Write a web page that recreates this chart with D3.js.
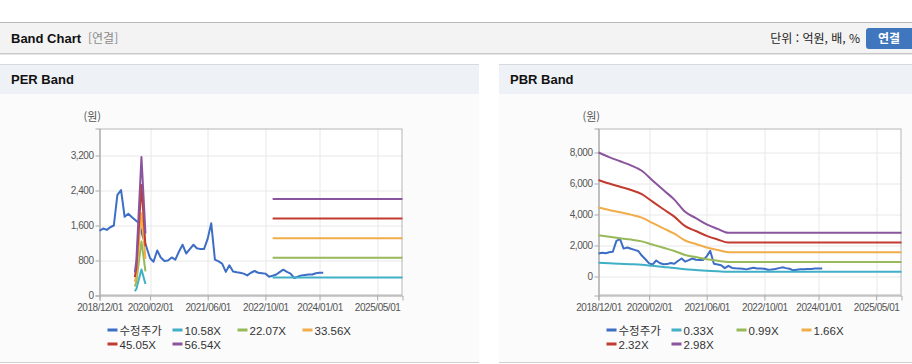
<!DOCTYPE html>
<html lang="ko">
<head>
<meta charset="utf-8">
<title>Band Chart</title>
<script src="https://d3js.org/d3.v7.min.js"></script>
<style>
  body { margin: 0; background: #fff; }
  svg text { font-family: "Liberation Sans", "Noto Sans CJK KR", sans-serif; }
  .kr { font-family: "Noto Sans CJK KR", "Liberation Sans", sans-serif !important; }
</style>
</head>
<body>
<svg id="page" width="912" height="364"></svg>
<script>
// 수정주가, monthly from 2018/12 to 2024/02
var priceValues = [1480, 1530, 1500, 1560, 1600, 2300, 2410, 1800, 1870, 1790,
                   1720, 1650, 1350, 1110, 850, 770, 1030, 870, 790, 800,
                   870, 820, 1000, 1160, 960, 1060, 1160, 1080, 1060, 1060,
                   1300, 1650, 820, 780, 730, 540, 690, 550, 530, 520,
                   500, 460, 520, 560, 520, 510, 500, 430, 450, 480,
                   540, 590, 540, 500, 400, 430, 460, 470, 480, 480,
                   510, 520, 520];

// PER band
var perNames = ["10.58X", "22.07X", "33.56X", "45.05X", "56.54X"];
var perDates = ["2019-09-25", "2019-10-08", "2019-11-20", "2019-12-24", "2020-01-10", "2022-12-01", "2025-12-01"];
var per1058 = [98, 148, 594, 265, null, 413, 413];
var per2207 = [205, 309, 1236, 552, null, 862, 862];
var per3356 = [312, 470, 1879, 839, null, 1310, 1310];
var per4505 = [419, 631, 2523, 1126, null, 1759, 1759];
var per5654 = [526, 792, 3166, 1414, null, 2208, 2208];
var perTicks = [0, 800, 1600, 2400, 3200];

// PBR band
var pbrNames = ["0.33X", "0.99X", "1.66X", "2.32X", "2.98X"];
var pbrDates = ["2018-12-01", "2019-03-01", "2019-06-01", "2019-09-01", "2019-12-01", "2020-03-01", "2020-06-01",
                "2020-09-01", "2020-12-01", "2021-03-01", "2021-06-01", "2021-09-01", "2021-12-01", "2025-12-01"];
var pbr033 = [886, 853, 823, 794, 756, 686, 617, 549, 462, 417, 373, 340, 312, 312];
var pbr099 = [2658, 2559, 2470, 2381, 2267, 2059, 1851, 1648, 1386, 1252, 1119, 1020, 936, 936];
var pbr166 = [4457, 4291, 4142, 3992, 3801, 3453, 3104, 2764, 2324, 2100, 1876, 1710, 1569, 1569];
var pbr232 = [6229, 5997, 5788, 5580, 5313, 4826, 4338, 3863, 3248, 2935, 2622, 2390, 2192, 2192];
var pbr298 = [8001, 7703, 7435, 7167, 6824, 6198, 5573, 4962, 4172, 3770, 3367, 3069, 2816, 2816];
var pbrTicks = [0, 2000, 4000, 6000, 8000];

var xTickLabels = ["2018/12/01", "2020/02/01", "2021/06/01", "2022/10/01", "2024/01/01", "2025/05/01"];

var colors = ["#3d6ec5", "#3fb0c6", "#98b95a", "#f0ad4a", "#c23b2f", "#8b559d"];

var parse = d3.timeParse("%Y-%m-%d");
var tickParse = d3.timeParse("%Y/%m/%d");
var priceDates = d3.timeMonth.range(parse("2018-12-01"), parse("2024-03-01"));

var svg = d3.select("#page");

// ---- top header bar ----
svg.append("rect").attr("x", 0).attr("y", 22).attr("width", 912).attr("height", 31).attr("fill", "#f3f3f3");
svg.append("line").attr("x1", 0).attr("x2", 912).attr("y1", 22.5).attr("y2", 22.5).attr("stroke", "#b8b8b8");
svg.append("line").attr("x1", 0).attr("x2", 912).attr("y1", 53.5).attr("y2", 53.5).attr("stroke", "#c8c8c8");
svg.append("line").attr("x1", 0).attr("x2", 912).attr("y1", 54.5).attr("y2", 54.5).attr("stroke", "#e6e6e6");
svg.append("text").attr("x", 11).attr("y", 43).attr("font-size", 13).attr("font-weight", "bold")
  .attr("fill", "#111").text("Band Chart");
svg.append("text").attr("class", "kr").attr("x", 88).attr("y", 43).attr("font-size", 12)
  .attr("fill", "#8a8a8a").text("[연결]");
svg.append("text").attr("class", "kr").attr("x", 860).attr("y", 43).attr("font-size", 12)
  .attr("text-anchor", "end").attr("fill", "#222").text("단위 : 억원, 배, %");
svg.append("rect").attr("x", 866).attr("y", 28).attr("width", 50).attr("height", 21).attr("rx", 3)
  .attr("fill", "#3f76bd");
svg.append("text").attr("class", "kr").attr("x", 889).attr("y", 43).attr("font-size", 12)
  .attr("font-weight", "bold").attr("text-anchor", "middle").attr("fill", "#fff").text("연결");

function series(dates, vals) {
  return dates.map(function(d, i) { return { date: d, v: vals[i] }; });
}

function drawPanel(opt) {
  var p = svg.append("g");
  // panel background
  p.append("rect").attr("x", opt.px).attr("y", 64).attr("width", opt.pw).attr("height", 299).attr("fill", "#fbfbfc");
  p.append("rect").attr("x", opt.px).attr("y", 64).attr("width", opt.pw).attr("height", 30).attr("fill", "#eef1f5");
  p.append("line").attr("x1", opt.px).attr("x2", opt.px + opt.pw).attr("y1", 64.5).attr("y2", 64.5).attr("stroke", "#d6d9de");
  p.append("line").attr("x1", opt.px).attr("x2", opt.px + opt.pw).attr("y1", 362.5).attr("y2", 362.5).attr("stroke", "#d0d0d0");
  p.append("text").attr("x", opt.px + 11).attr("y", 84).attr("font-size", 13).attr("font-weight", "bold")
    .attr("fill", "#111").text(opt.title);

  var w = 303, h = 167;
  var g = p.append("g").attr("transform", "translate(" + opt.left + ",128.5)");
  var x = d3.scaleTime().domain([parse("2018-12-01"), parse("2025-12-01")]).range([0, w]);
  var y = d3.scaleLinear().domain(opt.yDomain).range([h, 0]);
  var xTicks = xTickLabels.map(tickParse);

  g.append("rect").attr("width", w).attr("height", h).attr("fill", "#fff");

  // grid
  g.selectAll(".gx").data(xTicks).enter().append("line")
    .attr("x1", function(d) { return Math.round(x(d)) + 0.5; }).attr("x2", function(d) { return Math.round(x(d)) + 0.5; })
    .attr("y1", 0).attr("y2", h).attr("stroke", "#e8e8e8");
  g.selectAll(".gy").data(opt.yTicks).enter().append("line")
    .attr("x1", 0).attr("x2", w)
    .attr("y1", function(d) { return Math.round(y(d)) + 0.5; }).attr("y2", function(d) { return Math.round(y(d)) + 0.5; })
    .attr("stroke", "#e8e8e8");
  g.append("rect").attr("x", 0.5).attr("y", 0.5).attr("width", w - 1).attr("height", h - 1)
    .attr("fill", "none").attr("stroke", "#b5b5b5");

  // axes
  var yAxis = g.append("g").call(d3.axisLeft(y).tickValues(opt.yTicks).tickSize(4).tickPadding(2)
    .tickFormat(d3.format(",")));
  var xAxis = g.append("g").attr("transform", "translate(0," + h + ")")
    .call(d3.axisBottom(x).tickValues(xTicks).tickSize(5).tickPadding(3).tickFormat(d3.timeFormat("%Y/%m/%d")));
  [yAxis, xAxis].forEach(function(a) {
    a.select(".domain").attr("stroke", "#aaa");
    a.selectAll(".tick line").attr("stroke", "#aaa");
    a.selectAll(".tick text").attr("fill", "#555").attr("font-size", 10)
      .attr("letter-spacing", "-0.45px")
      .attr("font-family", "'Liberation Sans', sans-serif");
  });

  p.append("text").attr("class", "kr").attr("x", opt.left - 16).attr("y", 121).attr("font-size", 11)
    .attr("fill", "#555").text("(원)");

  // lines
  var line = d3.line().defined(function(d) { return d.v != null; })
    .x(function(d) { return x(d.date); }).y(function(d) { return y(d.v); });
  var bandLine = d3.line().defined(function(d) { return d.v != null; })
    .x(function(d) { return x(d.date); }).y(function(d) { return y(d.v); })
    .curve(opt.smooth ? d3.curveMonotoneX : d3.curveLinear);
  g.append("path").datum(series(priceDates, priceValues)).attr("d", line)
    .attr("fill", "none").attr("stroke", colors[0]).attr("stroke-width", 2).attr("stroke-linejoin", "round");
  var bandDates = opt.bandDates.map(parse);
  opt.bands.forEach(function(b, i) {
    g.append("path").datum(series(bandDates, b)).attr("d", bandLine)
      .attr("fill", "none").attr("stroke", colors[i + 1]).attr("stroke-width", 2).attr("stroke-linejoin", "round");
  });

  // legend
  var names = ["수정주가"].concat(opt.names);
  var lg = p.append("g").attr("transform", "translate(" + (opt.left + 8) + ",330)");
  names.forEach(function(n, i) {
    var it = lg.append("g").attr("transform", "translate(" + (i % 4) * 65 + "," + Math.floor(i / 4) * 14 + ")");
    it.append("rect").attr("x", 0).attr("y", -1.5).attr("width", 10).attr("height", 3).attr("fill", colors[i]);
    it.append("text").attr("class", i === 0 ? "kr" : null).attr("x", 12).attr("y", 4.5)
      .attr("font-size", 11.5).attr("fill", "#333").text(n);
  });
}

drawPanel({
  title: "PER Band", px: 0, pw: 479, left: 99.5, smooth: false,
  yDomain: [0, 3817], yTicks: perTicks, names: perNames, bandDates: perDates,
  bands: [per1058, per2207, per3356, per4505, per5654]
});
drawPanel({
  title: "PBR Band", px: 499, pw: 413, left: 598.5, smooth: true,
  yDomain: [-1226, 9548], yTicks: pbrTicks, names: pbrNames, bandDates: pbrDates,
  bands: [pbr033, pbr099, pbr166, pbr232, pbr298]
});
</script>
</body>
</html>
